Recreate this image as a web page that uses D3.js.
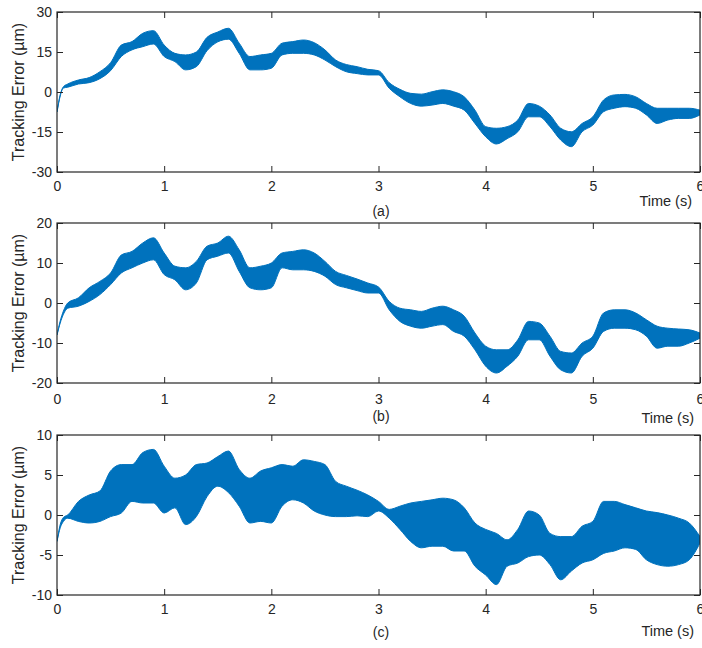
<!DOCTYPE html>
<html>
<head>
<meta charset="utf-8">
<script src="https://cdn.jsdelivr.net/npm/d3@7"></script>
<style>
  html, body { margin: 0; padding: 0; background: #fff; }
  svg { display: block; font-family: Arial, "Liberation Sans", sans-serif; }
</style>
</head>
<body>
<svg id="chart" width="702" height="648"></svg>
<script>
// Sample times (s) for the envelope of each tracking-error trace
const time = [0, 0.03, 0.06,
  0.1, 0.2, 0.3, 0.4, 0.5, 0.6, 0.7, 0.8, 0.9, 1.0,
  1.1, 1.2, 1.3, 1.4, 1.5, 1.6, 1.7, 1.8, 1.9, 2.0,
  2.1, 2.2, 2.3, 2.4, 2.5, 2.6, 2.7, 2.8, 2.9, 3.0,
  3.1, 3.2, 3.3, 3.4, 3.5, 3.6, 3.7, 3.8, 3.9, 4.0,
  4.1, 4.2, 4.3, 4.4, 4.5, 4.6, 4.7, 4.8, 4.9, 5.0,
  5.1, 5.2, 5.3, 5.4, 5.5, 5.6, 5.7, 5.8, 5.9, 6.0];

// (a) upper / lower envelope of the error (µm)
const upperA = [-7.5, -1, 2,
  3, 4.5, 5.4, 7.6, 11, 17.6, 18.9, 22, 23, 17.6,
  14.5, 13.9, 15, 20.5, 22.5, 23.9, 18.3, 13.3, 13.9, 14.5,
  18.3, 18.9, 19.5, 18.5, 15.8, 12, 10.3, 9.5, 8.5, 8,
  3.5, 1, -0.5, -0.8, 0.1, 0.8, 0.1, -1.8, -6.8, -13,
  -13.6, -13, -10.5, -4.3, -5.3, -8.6, -13.6, -14.9, -11.8, -9.3,
  -3, -1.1, -0.9, -1.8, -4.3, -6.1, -6.1, -6.1, -6.1, -6.8];
const lowerA = [-7.5, -1.5, 1.5,
  1.8, 3, 3.5, 5, 8, 13.3, 15.8, 17, 18, 13.3,
  11.4, 8.3, 9.5, 15.5, 18.8, 19.8, 14.5, 8.3, 8.3, 8.9,
  13.9, 14.5, 14.5, 13.9, 12, 9.5, 7.6, 6.9, 6.4, 6.4,
  1.4, -1.8, -4.3, -5.3, -4.9, -4.3, -5.3, -6.8, -11.8, -16.8,
  -19.5, -17.5, -14.9, -9.3, -9.3, -13, -18, -20.5, -14.9, -12.4,
  -7.4, -6.1, -5.5, -6.1, -8.6, -11.8, -10.5, -9.9, -9.9, -8.6];

// (b)
const upperB = [-8, -4.5, -2,
  0, 1.3, 3.8, 5.4, 7.5, 12, 12.9, 15, 16.3, 12.5,
  9.2, 8.8, 10.4, 14.2, 15, 16.7, 13.3, 8.8, 9.2, 10,
  12.5, 12.9, 13.3, 12.5, 10.4, 7.9, 6.9, 6, 5, 4,
  0.4, -1.3, -1.7, -2.1, -1.3, -0.8, -1.7, -3.3, -7.5, -10.8,
  -11.7, -11.7, -9.2, -4.6, -5, -8.3, -12.1, -12.5, -10, -8.3,
  -2.5, -1.7, -1.7, -2.5, -4.2, -5.8, -6.3, -6.5, -6.7, -7.5];
const lowerB = [-8, -5, -2.8,
  -1.3, -0.8, 0.4, 2.1, 4.6, 7.5, 8.8, 10, 10.8, 7.1,
  5.8, 3.3, 5, 10.8, 11.7, 12.5, 7.9, 3.8, 3.3, 3.8,
  8.8, 8.3, 8.3, 7.9, 6.7, 4.6, 3.8, 3.1, 2.5, 2.5,
  -1.7, -4.6, -5.8, -6.3, -5.8, -5.4, -7.1, -8.3, -11.7, -15.8,
  -17.5, -15.8, -13.3, -9.2, -9.2, -13.3, -16.7, -17.5, -13.3, -11.3,
  -7.1, -6.3, -6.3, -6.7, -8.3, -11.3, -10.8, -10.8, -10, -8.8];

// (c)
const upperC = [-3.3, -1.2, -0.3,
  0, 1.7, 2.5, 3, 5.5, 6.3, 6.3, 7.8, 8.2, 6.1,
  4.6, 5, 6.3, 6.5, 7.3, 8, 5.7, 4.6, 5.5, 5.9,
  6.3, 6.1, 6.9, 6.7, 6.3, 4.2, 3.6, 3.1, 2.5, 1.7,
  0.7, 1.1, 1.5, 1.7, 1.9, 2.1, 1.9, 0.9, -1, -1.8,
  -2.3, -3.1, -1.8, 0.5, 0, -2.3, -2.7, -2.7, -1.4, -0.8,
  1.7, 1.7, 1.3, 0.9, 0.5, 0.3, 0, -0.4, -1, -2.7];
const lowerC = [-3.3, -1.6, -0.8,
  -0.4, -0.8, -1, -0.8, -0.2, 0.25, 1.7, 1.5, 1.5, 0.25,
  0.9, -1.2, -0.2, 2.3, 3.6, 2.8, 1.1, -1, -0.8, -1,
  1.1, 1.9, 1.5, 0.5, 0, -0.2, -0.2, -0.1, -0.2, 0.5,
  -0.4, -1.8, -3.3, -4.1, -3.9, -3.9, -4.5, -4.5, -6.4, -7.5,
  -8.7, -6.4, -6, -5.2, -5, -6.2, -8.1, -7, -6, -5.6,
  -4.8, -4.5, -4.1, -4.3, -5.6, -6.2, -6.4, -6.2, -5.6, -3.5];

// Axis ticks
const xTicks = [0, 1, 2, 3, 4, 5, 6];
const yTicksA = [-30, -15, 0, 15, 30];
const yTicksB = [-20, -10, 0, 10, 20];
const yTicksC = [-10, -5, 0, 5, 10];
const panelTags = ["(a)", "(b)", "(c)"];
const xTitle = "Time (s)";
const yTitle = "Tracking Error (µm)";

const panels = [
  { tag: panelTags[0], upper: upperA, lower: lowerA, yTicks: yTicksA,
    top: 12, tickPad: 9, tagBase: 216, timeBase: 206, timeRight: 692 },
  { tag: panelTags[1], upper: upperB, lower: lowerB, yTicks: yTicksB,
    top: 223, tickPad: 11, tagBase: 421, timeBase: 423, timeRight: 694 },
  { tag: panelTags[2], upper: upperC, lower: lowerC, yTicks: yTicksC,
    top: 435, tickPad: 9, tagBase: 637, timeBase: 636, timeRight: 694 }
];

const left = 57, right = 700, plotH = 160;
const axisColor = "#262626";
const lineColor = "#0072BD";

const svg = d3.select("#chart");

panels.forEach((p, i) => {
  const x = d3.scaleLinear().domain([0, 6]).range([left, right]);
  const y = d3.scaleLinear()
    .domain([p.yTicks[0], p.yTicks[p.yTicks.length - 1]])
    .range([p.top + plotH, p.top]);

  const g = svg.append("g");

  const clipId = "clip" + i;
  g.append("clipPath").attr("id", clipId)
    .append("rect")
    .attr("x", left).attr("y", p.top)
    .attr("width", right - left).attr("height", plotH);

  const rows = time.map((t, k) => ({ t, hi: p.upper[k], lo: p.lower[k] }));

  const band = d3.area()
    .x(d => x(d.t))
    .y0(d => y(d.lo))
    .y1(d => y(d.hi))
    .curve(d3.curveMonotoneX);

  g.append("path")
    .datum(rows)
    .attr("clip-path", `url(#${clipId})`)
    .attr("d", band)
    .attr("fill", lineColor)
    .attr("stroke", lineColor)
    .attr("stroke-width", 1);

  const fmt = d => String(d);

  // bottom axis with labels
  const bottom = g.append("g")
    .attr("transform", `translate(0,${p.top + plotH})`)
    .call(d3.axisBottom(x).tickValues(xTicks).tickFormat(fmt)
      .tickSize(-6).tickPadding(p.tickPad));
  // top axis, ticks only
  const topAx = g.append("g")
    .attr("transform", `translate(0,${p.top})`)
    .call(d3.axisTop(x).tickValues(xTicks).tickFormat("").tickSize(-6));
  // left axis with labels
  const leftAx = g.append("g")
    .attr("transform", `translate(${left},0)`)
    .call(d3.axisLeft(y).tickValues(p.yTicks).tickFormat(fmt)
      .tickSize(-6).tickPadding(5));
  // right axis, ticks only
  const rightAx = g.append("g")
    .attr("transform", `translate(${right},0)`)
    .call(d3.axisRight(y).tickValues(p.yTicks).tickFormat("").tickSize(-6));

  [bottom, topAx, leftAx, rightAx].forEach(a => {
    a.select(".domain").remove();
    a.selectAll("line").attr("stroke", axisColor);
    a.selectAll("text")
      .attr("fill", axisColor)
      .style("font-size", "14px")
      .style("font-family", "Arial, 'Liberation Sans', sans-serif");
  });

  // axes box
  g.append("rect")
    .attr("x", left).attr("y", p.top)
    .attr("width", right - left).attr("height", plotH)
    .attr("fill", "none")
    .attr("stroke", axisColor)
    .attr("stroke-width", 1.2);

  // y title
  g.append("text")
    .attr("transform", `translate(24,${p.top + plotH / 2}) rotate(-90)`)
    .attr("text-anchor", "middle")
    .attr("fill", axisColor)
    .style("font-size", "16px")
    .text(yTitle);

  // x title
  g.append("text")
    .attr("x", p.timeRight).attr("y", p.timeBase)
    .attr("text-anchor", "end")
    .attr("fill", axisColor)
    .style("font-size", "14.5px")
    .text(xTitle);

  // panel tag
  g.append("text")
    .attr("x", 381).attr("y", p.tagBase)
    .attr("text-anchor", "middle")
    .attr("fill", axisColor)
    .style("font-size", "14px")
    .text(p.tag);
});
</script>
</body>
</html>
